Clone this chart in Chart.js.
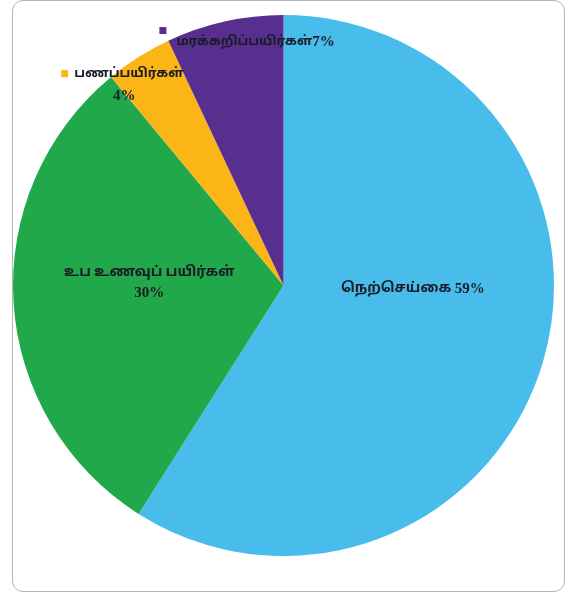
<!DOCTYPE html>
<html>
<head>
<meta charset="utf-8">
<script src="https://cdn.jsdelivr.net/npm/chart.js@4.4.0/dist/chart.umd.min.js"></script>
<style>
  html, body { margin: 0; padding: 0; background: #fff; }
  #frame {
    position: absolute; left: 12px; top: 0px; width: 551px; height: 590px;
    border: 1.5px solid #b4b4b4; border-radius: 11px;
  }
  #wrap { position: absolute; left: 0; top: 0; width: 573px; height: 597px; }
</style>
</head>
<body>
<div id="frame"></div>
<div id="wrap"><canvas id="chart" width="573" height="597"></canvas></div>
<script>
const labels = ['நெற்செய்கை', 'உப உணவுப் பயிர்கள்', 'பணப்பயிர்கள்', 'மரக்கறிப்பயிர்கள்'];
const values = [59, 30, 4, 7];
const colors = ['#48bdeb', '#21a84a', '#fcb517', '#582f8f'];

// label placement, in units of the pie radius from its centre
// (centred labels: dx/dy is the text centre; keyed labels: dx/dy is the first line's left edge)
const labelPos = [
  { dx: 0.478, dy: 0.012, size: 14, sep: ' ' },
  { dx: -0.496, dy: -0.01, size: 14, second: { x: 0, y: 21 } },
  { dx: -0.774, dy: -0.785, size: 13,
    key: { x: -13, y: -3 }, second: { x: 50, y: 23 } },
  { dx: -0.396, dy: -0.9, size: 13, sep: '',
    key: { x: -17, y: -15 } }
];

const fontFam = '"Liberation Serif", "Noto Sans Tamil", "Lohit Tamil", serif';
const pctFont = 'bold 15px ' + fontFam;

const sliceLabels = {
  id: 'sliceLabels',
  afterDatasetsDraw(chart) {
    const ctx = chart.ctx;
    const meta = chart.getDatasetMeta(0);
    ctx.save();
    ctx.textBaseline = 'middle';
    meta.data.forEach((arc, i) => {
      const p = labelPos[i];
      const r = arc.outerRadius;
      const cx = arc.x + p.dx * r;
      const cy = arc.y + p.dy * r;
      const nameFont = 'bold ' + p.size + 'px ' + fontFam;
      const name = labels[i];
      const pct = values[i] + '%';
      if (p.key) {
        ctx.fillStyle = colors[i];
        ctx.fillRect(cx + p.key.x, cy + p.key.y, 7, 7);
      }
      ctx.fillStyle = '#1b1b28';
      if (p.second) {
        // two lines: name, then percentage
        const y1 = p.key ? cy : cy - p.second.y / 2;
        ctx.font = nameFont;
        ctx.textAlign = p.key ? 'left' : 'center';
        ctx.fillText(name, cx, y1);
        ctx.font = pctFont;
        ctx.textAlign = 'center';
        ctx.fillText(pct, cx + p.second.x, y1 + p.second.y);
      } else {
        // one line: name and percentage side by side
        ctx.font = nameFont;
        const w1 = ctx.measureText(name + p.sep).width;
        ctx.font = pctFont;
        const w2 = ctx.measureText(pct).width;
        const x0 = p.key ? cx : cx - (w1 + w2) / 2;
        ctx.textAlign = 'left';
        ctx.font = nameFont;
        ctx.fillText(name + p.sep, x0, cy);
        ctx.font = pctFont;
        ctx.fillText(pct, x0 + w1, cy);
      }
    });
    ctx.restore();
  }
};

new Chart(document.getElementById('chart').getContext('2d'), {
  type: 'pie',
  data: {
    labels: labels,
    datasets: [{
      data: values,
      backgroundColor: colors,
      borderWidth: 0
    }]
  },
  options: {
    responsive: false,
    animation: false,
    layout: { padding: { left: 13, right: 19, top: 15, bottom: 41 } },
    plugins: {
      legend: { display: false },
      tooltip: { enabled: false }
    }
  },
  plugins: [sliceLabels]
});
</script>
</body>
</html>
